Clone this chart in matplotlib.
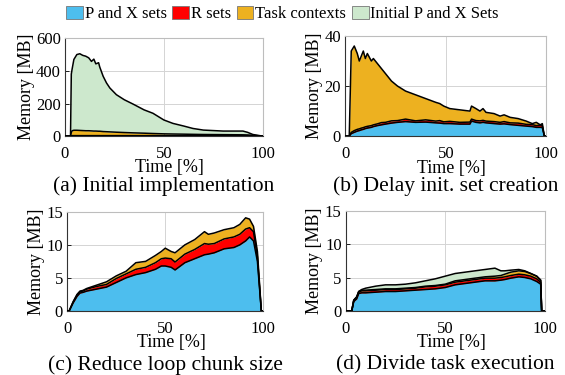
import matplotlib
matplotlib.use("Agg")
import matplotlib.pyplot as plt
from matplotlib.patches import Patch
import numpy as np

plt.rcParams["font.family"] = ["Liberation Serif", "DejaVu Serif"]

SERIES = ["P and X sets", "R sets", "Task contexts", "Initial P and X Sets"]
COLORS = ["#4DBEEE", "#FF0000", "#EDB120", "#CDE8CD"]

# (a) Initial implementation -- upper boundary of each stacked layer
A_TIME = [0, 2.8, 3.2, 3.6, 4.5, 6, 7.5, 9, 10.5, 12, 13.4, 14.6, 15.6, 17, 17.6, 19.3, 21,
          22.7, 26, 30, 34.5, 40, 44.5, 50, 54.6, 60, 64.7, 70, 80, 90, 92.4, 95, 98, 100]
A_PX_TOP = [0, 0, 1, 2, 2, 2, 2, 2, 2, 2, 2, 2, 2, 2, 2, 2, 2, 2, 2, 2, 2, 2, 2, 2, 2, 2, 2,
            2, 2, 2, 2, 1, 1, 0]
A_R_TOP = [0, 0, 2, 3, 3, 3, 3, 3, 3, 3, 3, 3, 3, 3, 3, 3, 3, 3, 3, 3, 3, 3, 3, 3, 3, 3, 3,
           3, 3, 3, 3, 2, 1, 0]
A_TASK_TOP = [0, 0, 22, 33, 36, 36, 35, 34, 33, 33, 32, 31, 31, 30, 30, 28, 27, 26, 24, 22,
              20, 18, 16, 14, 13, 12, 11, 10, 9, 8, 7, 5, 2, 0]
A_INIT_TOP = [0, 0, 380, 410, 470, 500, 505, 495, 490, 480, 458, 472, 443, 450, 423, 367, 326,
              295, 254, 223, 196, 161, 140, 99, 78, 62, 47, 37, 31, 31, 23, 10, 4, 0]

# (b) Delay init. set creation
B_TIME = [0, 2, 3, 4.5, 6, 7, 8, 9, 10, 11, 13, 14, 16, 18, 20, 23, 26, 30, 35, 40, 45, 47,
          49, 52, 57, 62, 62.8, 65, 67, 68.5, 70, 74, 77, 79, 82, 86, 90, 93, 95, 97, 98, 99, 100]
B_PX_TOP = [0, 0, 1, 1.5, 2, 2.2, 2.5, 2.7, 3, 3.2, 3.5, 3.8, 4.2, 4.5, 4.8, 5.2, 5.5, 5.8,
            5.5, 5.6, 5.3, 5.2, 5, 5, 4.8, 4.8, 6, 5.5, 5.3, 5.5, 5.3, 5, 4.8, 4.9, 4.6, 4.3,
            4, 3.8, 3.5, 3.5, 3.4, 0, 0]
B_R_TOP = [0, 0, 1.5, 2.2, 2.7, 2.9, 3.2, 3.4, 3.7, 3.9, 4.2, 4.5, 4.9, 5.4, 5.5, 6.1, 6.2,
           6.8, 6.1, 6.5, 6.0, 6.2, 5.7, 5.9, 5.5, 5.6, 6.8, 6.2, 6.1, 6.3, 6.0, 5.8, 5.5, 5.8,
           5.3, 5.2, 4.7, 4.6, 4.2, 4.4, 4.1, 0, 0]
B_TASK_TOP = [0, 0, 34, 36, 33, 30, 32, 34, 31, 33, 30, 31, 29, 27, 25, 22, 20, 18, 16.5, 15,
              13.5, 13, 12, 11, 10.5, 10, 12, 11, 10, 11, 9.5, 9, 8, 8.5, 7.5, 7, 6, 5, 5.5,
              4.5, 5, 0, 0]

# (c) Reduce loop chunk size
C_TIME = [0, 1, 3, 5, 6.5, 8, 10, 15, 20, 25, 30, 35, 40, 45, 48, 50, 53, 55, 60, 65, 70, 72,
          75, 80, 85, 88, 91, 93, 95, 97, 99, 100]
C_PX_TOP = [0, 0, 1.2, 2.2, 2.7, 2.8, 3, 3.3, 3.6, 4.3, 5, 5.5, 5.8, 6.3, 6.8, 6.8, 6.6, 6.2,
            7.3, 7.9, 8.5, 8.6, 8.8, 9.4, 9.6, 10, 10.6, 11.2, 10.6, 7.5, 0, 0]
C_R_TOP = [0, 0, 1.3, 2.4, 2.9, 3.0, 3.3, 3.7, 4.0, 4.9, 5.6, 6.3, 6.6, 7.3, 7.9, 8.0, 7.9,
           7.4, 8.6, 9.3, 10.2, 10.1, 10.2, 10.9, 11.2, 11.6, 12.4, 12.6, 12.0, 8.2, 0, 0]
C_TASK_TOP = [0, 0, 1.4, 2.5, 3.0, 3.1, 3.4, 3.9, 4.4, 5.3, 6.0, 7.3, 7.5, 8.4, 9.0, 9.5, 9.0,
              8.8, 10.0, 10.8, 12.0, 11.6, 11.8, 12.3, 12.6, 13.1, 14.1, 13.9, 12.8, 9.0, 0, 0]

# (d) Divide task execution
D_TIME = [0, 3, 4, 5.5, 6.5, 8, 10, 15, 20, 25, 30, 35, 40, 45, 50, 55, 60, 65, 70, 75, 78,
          80, 83, 87, 90, 93, 96, 98, 98.5, 100]
D_PX_TOP = [0, 0, 1.4, 1.8, 2.6, 2.7, 2.7, 2.8, 2.9, 2.9, 3.0, 3.1, 3.2, 3.3, 3.5, 3.9, 4.1,
            4.3, 4.5, 4.5, 4.6, 4.7, 4.9, 5.1, 5.0, 4.8, 4.4, 4.0, 0, 0]
D_R_TOP = [0, 0, 1.5, 2.0, 2.8, 3.0, 3.0, 3.1, 3.2, 3.2, 3.3, 3.4, 3.6, 3.7, 3.9, 4.3, 4.5,
           4.7, 4.9, 4.9, 5.0, 5.1, 5.3, 5.5, 5.4, 5.2, 4.8, 4.3, 0, 0]
D_TASK_TOP = [0, 0, 1.6, 2.1, 2.9, 3.1, 3.1, 3.2, 3.3, 3.3, 3.4, 3.5, 3.7, 3.8, 4.0, 4.5, 4.7,
              4.9, 5.1, 5.2, 5.3, 5.5, 5.8, 6.0, 5.9, 5.6, 5.2, 4.6, 0, 0]
D_INIT_TOP = [0, 0, 1.6, 2.1, 2.9, 3.2, 3.4, 3.7, 3.9, 3.9, 4.0, 4.2, 4.5, 4.8, 5.2, 5.6, 5.8,
              6.0, 6.2, 6.4, 6.0, 6.0, 6.1, 6.2, 6.0, 5.6, 5.2, 4.6, 0, 0]

# caption, data, y ticks, axes rectangle, caption height (figure fraction)
PANELS = [
    ("(a) Initial implementation", A_TIME, [A_PX_TOP, A_R_TOP, A_TASK_TOP, A_INIT_TOP],
     [0, 200, 400, 600], [0.115, 0.637, 0.350, 0.261], 0.504),
    ("(b) Delay init. set creation", B_TIME, [B_PX_TOP, B_R_TOP, B_TASK_TOP],
     [0, 20, 40], [0.611, 0.637, 0.356, 0.267], 0.504),
    ("(c) Reduce loop chunk size", C_TIME, [C_PX_TOP, C_R_TOP, C_TASK_TOP],
     [0, 5, 10, 15], [0.119, 0.171, 0.347, 0.264], 0.026),
    ("(d) Divide task execution", D_TIME, [D_PX_TOP, D_R_TOP, D_TASK_TOP, D_INIT_TOP],
     [0, 5, 10, 15], [0.612, 0.171, 0.352, 0.267], 0.026),
]


def main() -> None:
    fig = plt.figure(figsize=(5.65, 3.75), dpi=100)
    for caption, time, tops, yticks, rect, caption_y in PANELS:
        ax = fig.add_axes(rect)
        time = np.asarray(time, dtype=float)
        lower = np.zeros_like(time)
        for top, color in zip(tops, COLORS):
            top = np.asarray(top, dtype=float)
            ax.fill_between(time, lower, top, color=color, lw=0, zorder=2)
            lower = top
        for top in tops:
            ax.plot(time, top, color="black", lw=1.1, zorder=3)
        ax.set_xlim(0, 100)
        ax.set_ylim(yticks[0], yticks[-1])
        ax.set_xticks([0, 50, 100])
        ax.set_yticks(yticks)
        ax.grid(True, color="#d4d4d4", lw=0.7, zorder=0)
        ax.set_axisbelow(True)
        ax.tick_params(direction="in", length=3, width=0.6, labelsize=12, pad=7)
        ax.tick_params(axis="y", pad=3)
        for side in ("top", "right"):
            ax.spines[side].set_color("#bdbdbd")
        for side in ("left", "bottom"):
            ax.spines[side].set_color("#333333")
        ax.set_ylabel("Memory [MB]", fontsize=13, labelpad=1)
        ax.set_xlabel("Time [%]", fontsize=13)
        ax.xaxis.set_label_coords(0.53, -0.235)
        fig.text(rect[0] + rect[2] / 2, caption_y, caption, ha="center", va="center",
                 fontsize=15.5)

    handles = [Patch(facecolor=c, edgecolor="#777777", lw=0.6) for c in COLORS]
    fig.legend(handles, SERIES, loc="center", bbox_to_anchor=(0.5, 0.963), ncol=4,
               frameon=False, fontsize=12, handlelength=1.0, handleheight=0.9,
               handletextpad=0.1, columnspacing=0.35, borderaxespad=0)
    fig.savefig("out.png", dpi=100)


if __name__ == "__main__":
    main()
